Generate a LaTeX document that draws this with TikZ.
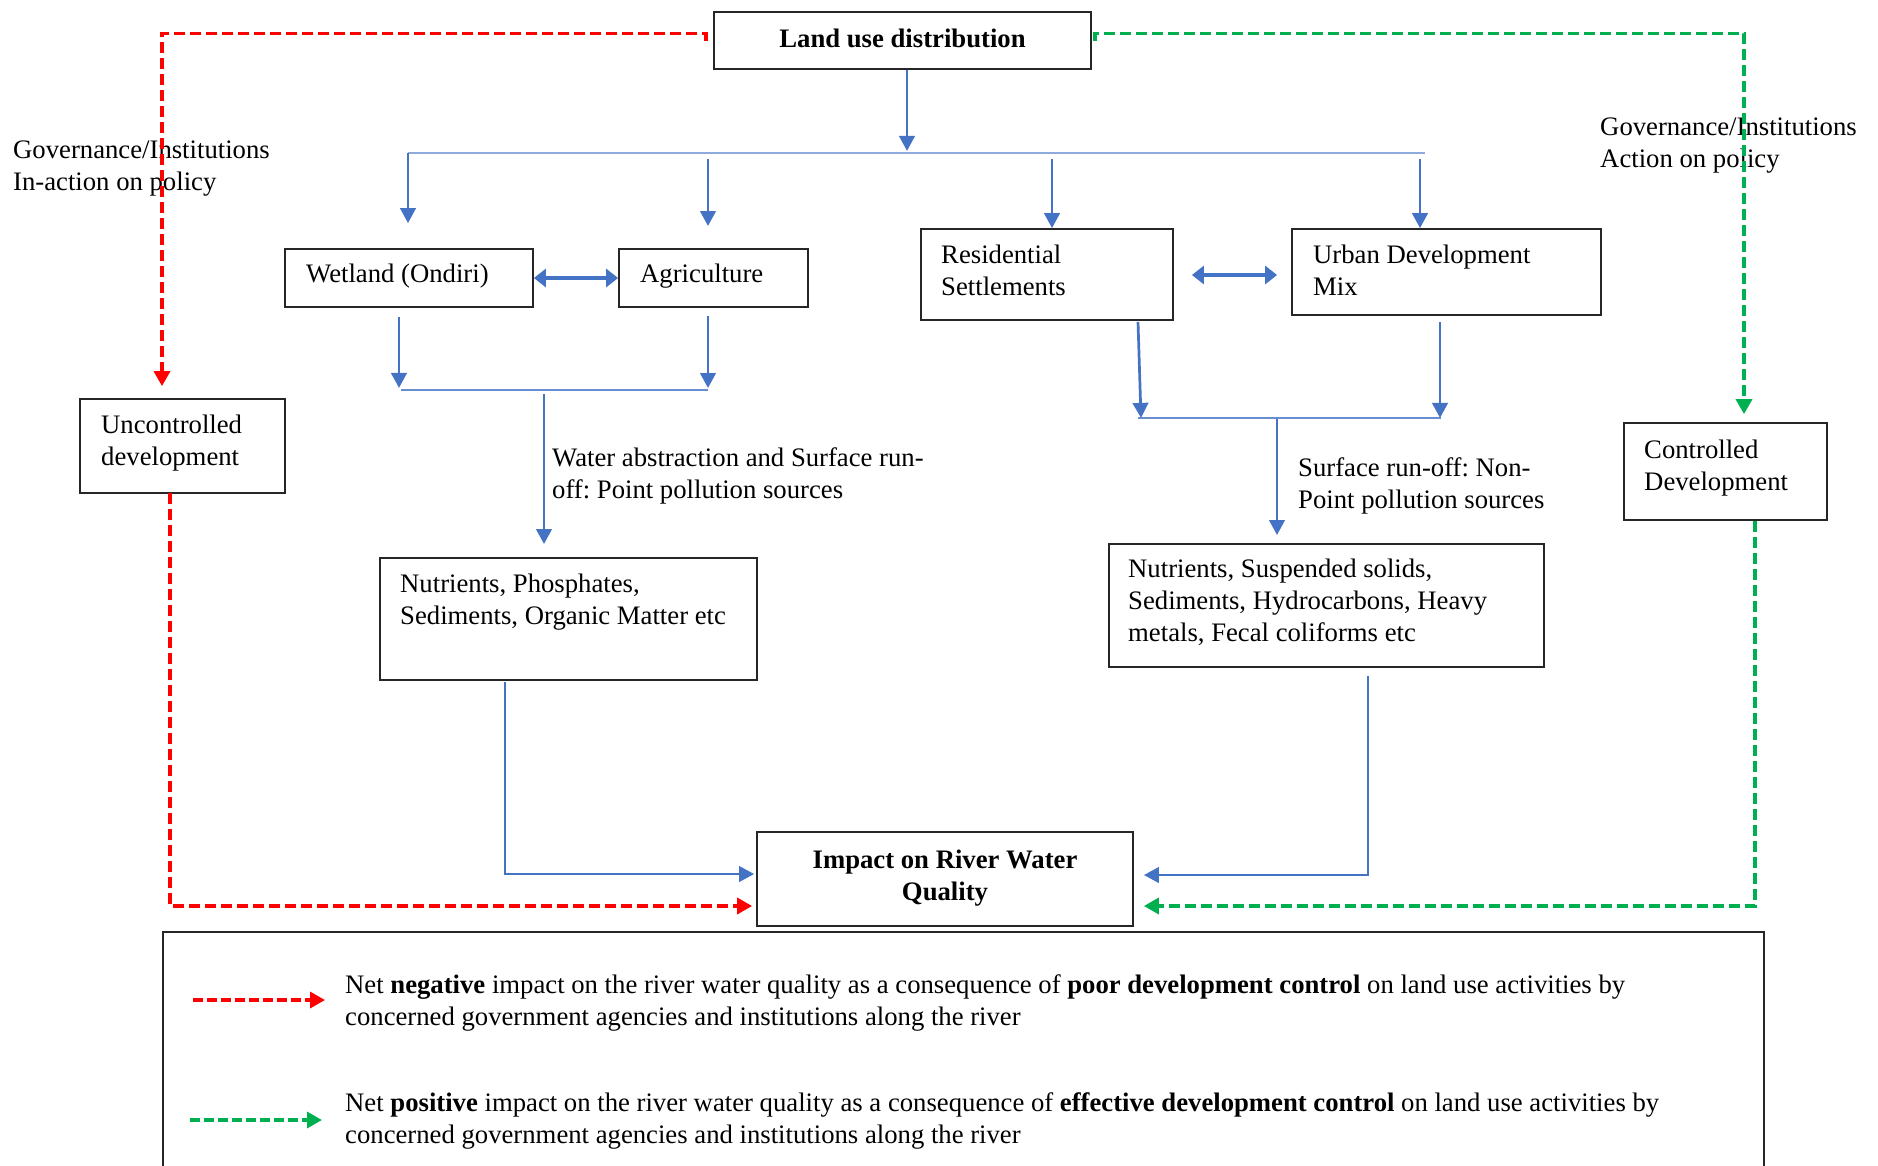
\documentclass[tikz,border=0pt]{standalone}
\usepackage{fontspec}
\setmainfont{Liberation Serif}
\usetikzlibrary{arrows.meta,calc}
\definecolor{ablue}{HTML}{4472C4}
\definecolor{lblue}{HTML}{8FAADC}
\definecolor{ared}{HTML}{FF0000}
\definecolor{agreen}{HTML}{00B050}
\newcommand\mkbox[5]{\node[box, minimum width={(#4)-(#2)}, minimum height={(#5)-(#3)}] (#1) at ({((#2)+(#4))/2},{((#3)+(#5))/2}) {};}
\frenchspacing
\begin{document}
\begin{tikzpicture}[x=1pt,y=-1pt,
  font=\fontsize{26.7}{32}\selectfont,
  box/.style={draw=black!85, line width=1.8pt, rectangle, inner sep=0pt},
  txt/.style={inner sep=0pt, align=left, anchor=north west},
  busline/.style={draw=lblue, line width=2.2pt},
  barrow/.style={draw=ablue, line width=2.7pt, -{Triangle[length=15pt,width=15.5pt]}},
  dbarrow/.style={draw=ablue, line width=4pt, {Triangle[length=12pt,width=18pt]}-{Triangle[length=12pt,width=18pt]}},
  redarrow/.style={draw=ared, line width=3.6pt, dash pattern=on 11pt off 5pt, -{Triangle[length=15pt,width=16pt]}},
  greenarrow/.style={draw=agreen, line width=3.6pt, dash pattern=on 11pt off 5pt, -{Triangle[length=15pt,width=16pt]}},
  redleg/.style={draw=ared, line width=3.4pt, dash pattern=on 9.5pt off 4.5pt, -{Triangle[length=15pt,width=16pt]}},
  greenleg/.style={draw=agreen, line width=3.4pt, dash pattern=on 9.5pt off 4.5pt, -{Triangle[length=15pt,width=16pt]}}
]
\useasboundingbox (0,0) rectangle (1878,1165);

% boxes
\mkbox{land}{714}{12}{1091}{69}
\mkbox{wet}{285}{249}{533}{307}
\mkbox{agri}{619}{249}{808}{307}
\mkbox{res}{921}{229}{1173}{320}
\mkbox{urban}{1292}{229}{1601}{315}
\mkbox{unc}{80}{399}{285}{493}
\mkbox{con}{1624}{423}{1827}{520}
\mkbox{nuta}{380}{558}{757}{680}
\mkbox{nutb}{1109}{544}{1544}{667}
\mkbox{impact}{757}{832}{1133}{926}

% box texts
\node[inner sep=0pt, font=\fontsize{26.7}{32}\selectfont\bfseries] (tland) at ([yshift=2pt]land.center) {Land use distribution};
\node[txt, anchor=west] (twet) at (306,276) {Wetland (Ondiri)};
\node[txt, anchor=west] (tagri) at (640,276) {Agriculture};
\node[txt] (tres) at (941,245) {Residential\\Settlements};
\node[txt] (turban) at (1313,245) {Urban Development\\Mix};
\node[txt] (tunc) at (101,415) {Uncontrolled\\development};
\node[txt] (tcon) at (1644,440) {Controlled\\Development};
\node[txt] (tnuta) at (400,574) {Nutrients, Phosphates,\\Sediments, Organic Matter etc};
\node[txt] (tnutb) at (1128,559) {Nutrients, Suspended solids,\\Sediments, Hydrocarbons, Heavy\\metals, Fecal coliforms etc};
\node[inner sep=0pt, align=center, anchor=north, font=\fontsize{26.7}{32}\selectfont\bfseries] (timpact) at (945,850) {Impact on River Water\\Quality};

% side labels
\node[txt] (govl) at (13,141) {Governance/Institutions\\In-action on policy};
\node[txt] (govr) at (1600,118) {Governance/Institutions\\Action on policy};
\node[txt] (lwater) at (552,447) {Water abstraction and Surface run-\\off: Point pollution sources};
\node[txt] (lsurf) at (1298,457) {Surface run-off: Non-\\Point pollution sources};

% top distribution
\coordinate (b1L) at (408,153);
\coordinate (b1R) at (1425,153);
\draw[busline] (b1L) -- (b1R);
\draw[barrow] ([xshift=4.5pt]land.south) -- ([xshift=4.5pt,yshift=-81pt]land.south);
\draw[barrow] (b1L) -- ([xshift=-1pt,yshift=25pt]wet.north);
\coordinate (a2) at (708,159);
\coordinate (a3) at (1052,159);
\coordinate (a4) at (1420,159);
\draw[barrow] (a2) -- (a2 |- 0,226);
\draw[barrow] (a3) -- (a3 |- res.north);
\draw[barrow] (a4) -- (a4 |- urban.north);

% double arrows
\draw[dbarrow] (wet.east) -- (agri.west);
\draw[dbarrow, shorten <=18pt, shorten >=14pt] (res.east |- 0,275) -- (urban.west |- 0,275);

% left branch
\coordinate (b2L) at (401,390);
\coordinate (b2R) at (708,390);
\draw[busline, draw=ablue!80] (b2L) -- (b2R);
\draw[barrow] ([xshift=-10pt,yshift=-9pt]wet.south) -- ([xshift=-10pt,yshift=-80pt]wet.south);
\coordinate (a5) at (708,316);
\draw[barrow] (a5) -- (a5 |- 0,388);
\coordinate (b2M) at (544,394);
\draw[barrow] (b2M) -- (b2M |- 0,544);

% right branch
\coordinate (b3L) at (1138,418);
\coordinate (b3R) at (1441,418);
\draw[busline, draw=ablue!80] (b3L) -- (b3R);
\draw[barrow] ([xshift=91pt,yshift=-1pt]res.south) -- ([xshift=94pt,yshift=-97pt]res.south);
\draw[barrow] ([xshift=-6.5pt,yshift=-6pt]urban.south) -- ([xshift=-6.5pt,yshift=-102pt]urban.south);
\coordinate (b3M) at (1277,419);
\draw[barrow] (b3M) -- (b3M |- 0,535);

% to impact
\draw[barrow] ([xshift=-63.5pt,yshift=-1pt]nuta.south) |- ([xshift=-2pt,yshift=5pt]impact.west);
\draw[barrow] ([xshift=41.5pt,yshift=-8pt]nutb.south) |- ([xshift=10pt,yshift=4pt]impact.east);

% governance dashed
\draw[redarrow] ([xshift=-7pt]land.west) -- ++(0,-7) -| ([xshift=-20.5pt,yshift=12pt]unc.north);
\draw[greenarrow] ([xshift=3pt]land.east) -- ++(0,-7) -| ([xshift=18.5pt,yshift=8pt]con.north);
\draw[redarrow] ([xshift=-12.5pt,yshift=1pt]unc.south) |- ([xshift=-4pt,yshift=-27pt]impact.west);
\draw[greenarrow] ([xshift=29.5pt]con.south) |- ([xshift=10pt,yshift=-27pt]impact.east);

% legend
\coordinate (lgBL) at (163,1166);
\coordinate (lgBR) at (1764,1166);
\draw[draw=black!85, line width=1.8pt] (lgBL) -- (163,932) -- (1764,932) -- (lgBR);
\coordinate (lr1) at (193,1000);
\coordinate (lr2) at (325,1000);
\coordinate (lg1) at (190,1120);
\coordinate (lg2) at (322,1120);
\draw[redleg] (lr1) -- (lr2);
\draw[greenleg] (lg1) -- (lg2);
\node[txt] (legneg) at (345,974) {Net \textbf{negative} impact on the river water quality as a consequence of \textbf{poor development control} on land use activities by\\concerned government agencies and institutions along the river};
\node[txt] (legpos) at (345,1092) {Net \textbf{positive} impact on the river water quality as a consequence of \textbf{effective development control} on land use activities by\\concerned government agencies and institutions along the river};
\end{tikzpicture}
\end{document}
